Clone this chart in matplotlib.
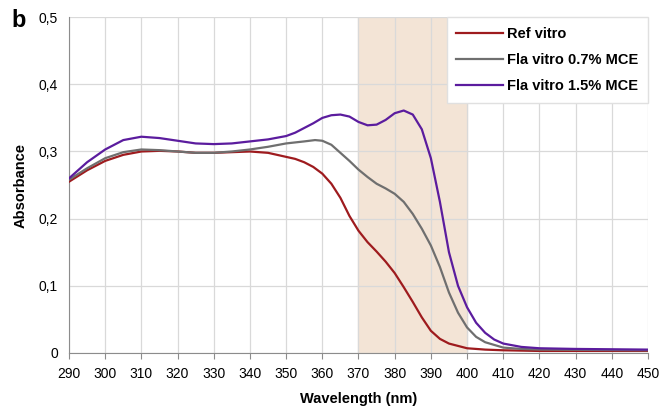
import matplotlib.pyplot as plt
from matplotlib.ticker import FuncFormatter

# wavelength (nm) / absorbance
ref_wl = [290, 295, 300, 305, 310, 315, 320, 325, 330, 335, 340, 345, 350, 352.5, 355, 357.5, 360,
          362.5, 365, 367.5, 370, 372.5, 375, 377.5, 380, 382.5, 385, 387.5, 390, 392.5, 395, 400,
          405, 410, 420, 450]
ref_abs = [0.255, 0.272, 0.286, 0.295, 0.300, 0.301, 0.300, 0.298, 0.298, 0.299, 0.300, 0.298, 0.292,
           0.289, 0.284, 0.277, 0.267, 0.252, 0.231, 0.204, 0.182, 0.165, 0.151, 0.136, 0.119, 0.098,
           0.076, 0.053, 0.033, 0.021, 0.014, 0.007, 0.005, 0.004, 0.003, 0.003]

fla07_wl = [290, 295, 300, 305, 310, 315, 320, 325, 330, 335, 340, 345, 350, 355, 358, 360, 362.5,
            365, 367.5, 370, 372.5, 375, 377.5, 380, 382.5, 385, 387.5, 390, 392.5, 395, 397.5, 400,
            402.5, 405, 410, 415, 420, 450]
fla07_abs = [0.258, 0.275, 0.290, 0.299, 0.303, 0.302, 0.300, 0.298, 0.298, 0.300, 0.303, 0.307, 0.312,
             0.315, 0.317, 0.316, 0.310, 0.298, 0.286, 0.273, 0.262, 0.252, 0.245, 0.237, 0.225, 0.207,
             0.185, 0.160, 0.128, 0.090, 0.060, 0.038, 0.024, 0.016, 0.008, 0.006, 0.005, 0.004]

fla15_wl = [290, 295, 300, 305, 310, 315, 320, 325, 330, 335, 340, 345, 350, 352.5, 355, 357.5, 360,
            362.5, 365, 367.5, 370, 372.5, 375, 377.5, 380, 382.5, 385, 387.5, 390, 392.5, 395, 397.5,
            400, 402.5, 405, 407.5, 410, 415, 420, 430, 450]
fla15_abs = [0.260, 0.284, 0.303, 0.317, 0.322, 0.320, 0.316, 0.312, 0.311, 0.312, 0.315, 0.318, 0.323,
             0.328, 0.335, 0.342, 0.350, 0.354, 0.355, 0.352, 0.344, 0.339, 0.340, 0.347, 0.357, 0.361,
             0.355, 0.333, 0.290, 0.225, 0.150, 0.100, 0.068, 0.045, 0.030, 0.020, 0.014, 0.009, 0.007,
             0.006, 0.005]

labels = ["Ref vitro", "Fla vitro 0.7% MCE", "Fla vitro 1.5% MCE"]
colors = ["#9e1b1e", "#6f6f6f", "#5b1c9e"]

plt.rcParams['font.family'] = ['Liberation Sans', 'DejaVu Sans']

fig = plt.figure(figsize=(6.59, 4.09), dpi=100)
ax = fig.add_axes([0.1047, 0.137, 0.8786, 0.821])

ax.axvspan(370, 400, color="#f3e4d6", zorder=0)

for wl, ab, lab, c in zip([ref_wl, fla07_wl, fla15_wl], [ref_abs, fla07_abs, fla15_abs], labels, colors):
  ax.plot(wl, ab, color=c, lw=1.6, label=lab, zorder=3)

ax.set_xlim(290, 450)
ax.set_ylim(0, 0.5)
ax.set_xticks(range(290, 451, 10))
ax.set_yticks([0, 0.1, 0.2, 0.3, 0.4, 0.5])
ax.yaxis.set_major_formatter(FuncFormatter(lambda v, p: "0" if v == 0 else ("%.1f" % v).replace(".", ",")))
ax.grid(True, color="#d9d9d9", lw=0.9, zorder=1)
ax.set_axisbelow(True)

for s in ["top", "right"]:
  ax.spines[s].set_visible(False)
for s in ["left", "bottom"]:
  ax.spines[s].set_color("#8c8c8c")
ax.tick_params(axis="x", direction="out", length=4, color="#8c8c8c", labelsize=10, pad=6)
ax.tick_params(axis="y", length=0, labelsize=10, pad=8)

ax.set_xlabel("Wavelength (nm)", fontsize=10.5, fontweight="bold", labelpad=8)
ax.set_ylabel("Absorbance", fontsize=10.5, fontweight="bold", labelpad=8)

leg = ax.legend(loc="upper right", frameon=True, fancybox=False, borderaxespad=0,
                prop={"weight": "bold", "size": 10.5}, handlelength=3.2, labelspacing=0.85,
                borderpad=0.65, handletextpad=0.3)
leg.get_frame().set_edgecolor("#e0e0e0")
leg.get_frame().set_facecolor("white")
leg.get_frame().set_alpha(1)

fig.text(0.018, 0.935, "b", fontsize=17, fontweight="bold")

fig.savefig("out.png", dpi=100)
